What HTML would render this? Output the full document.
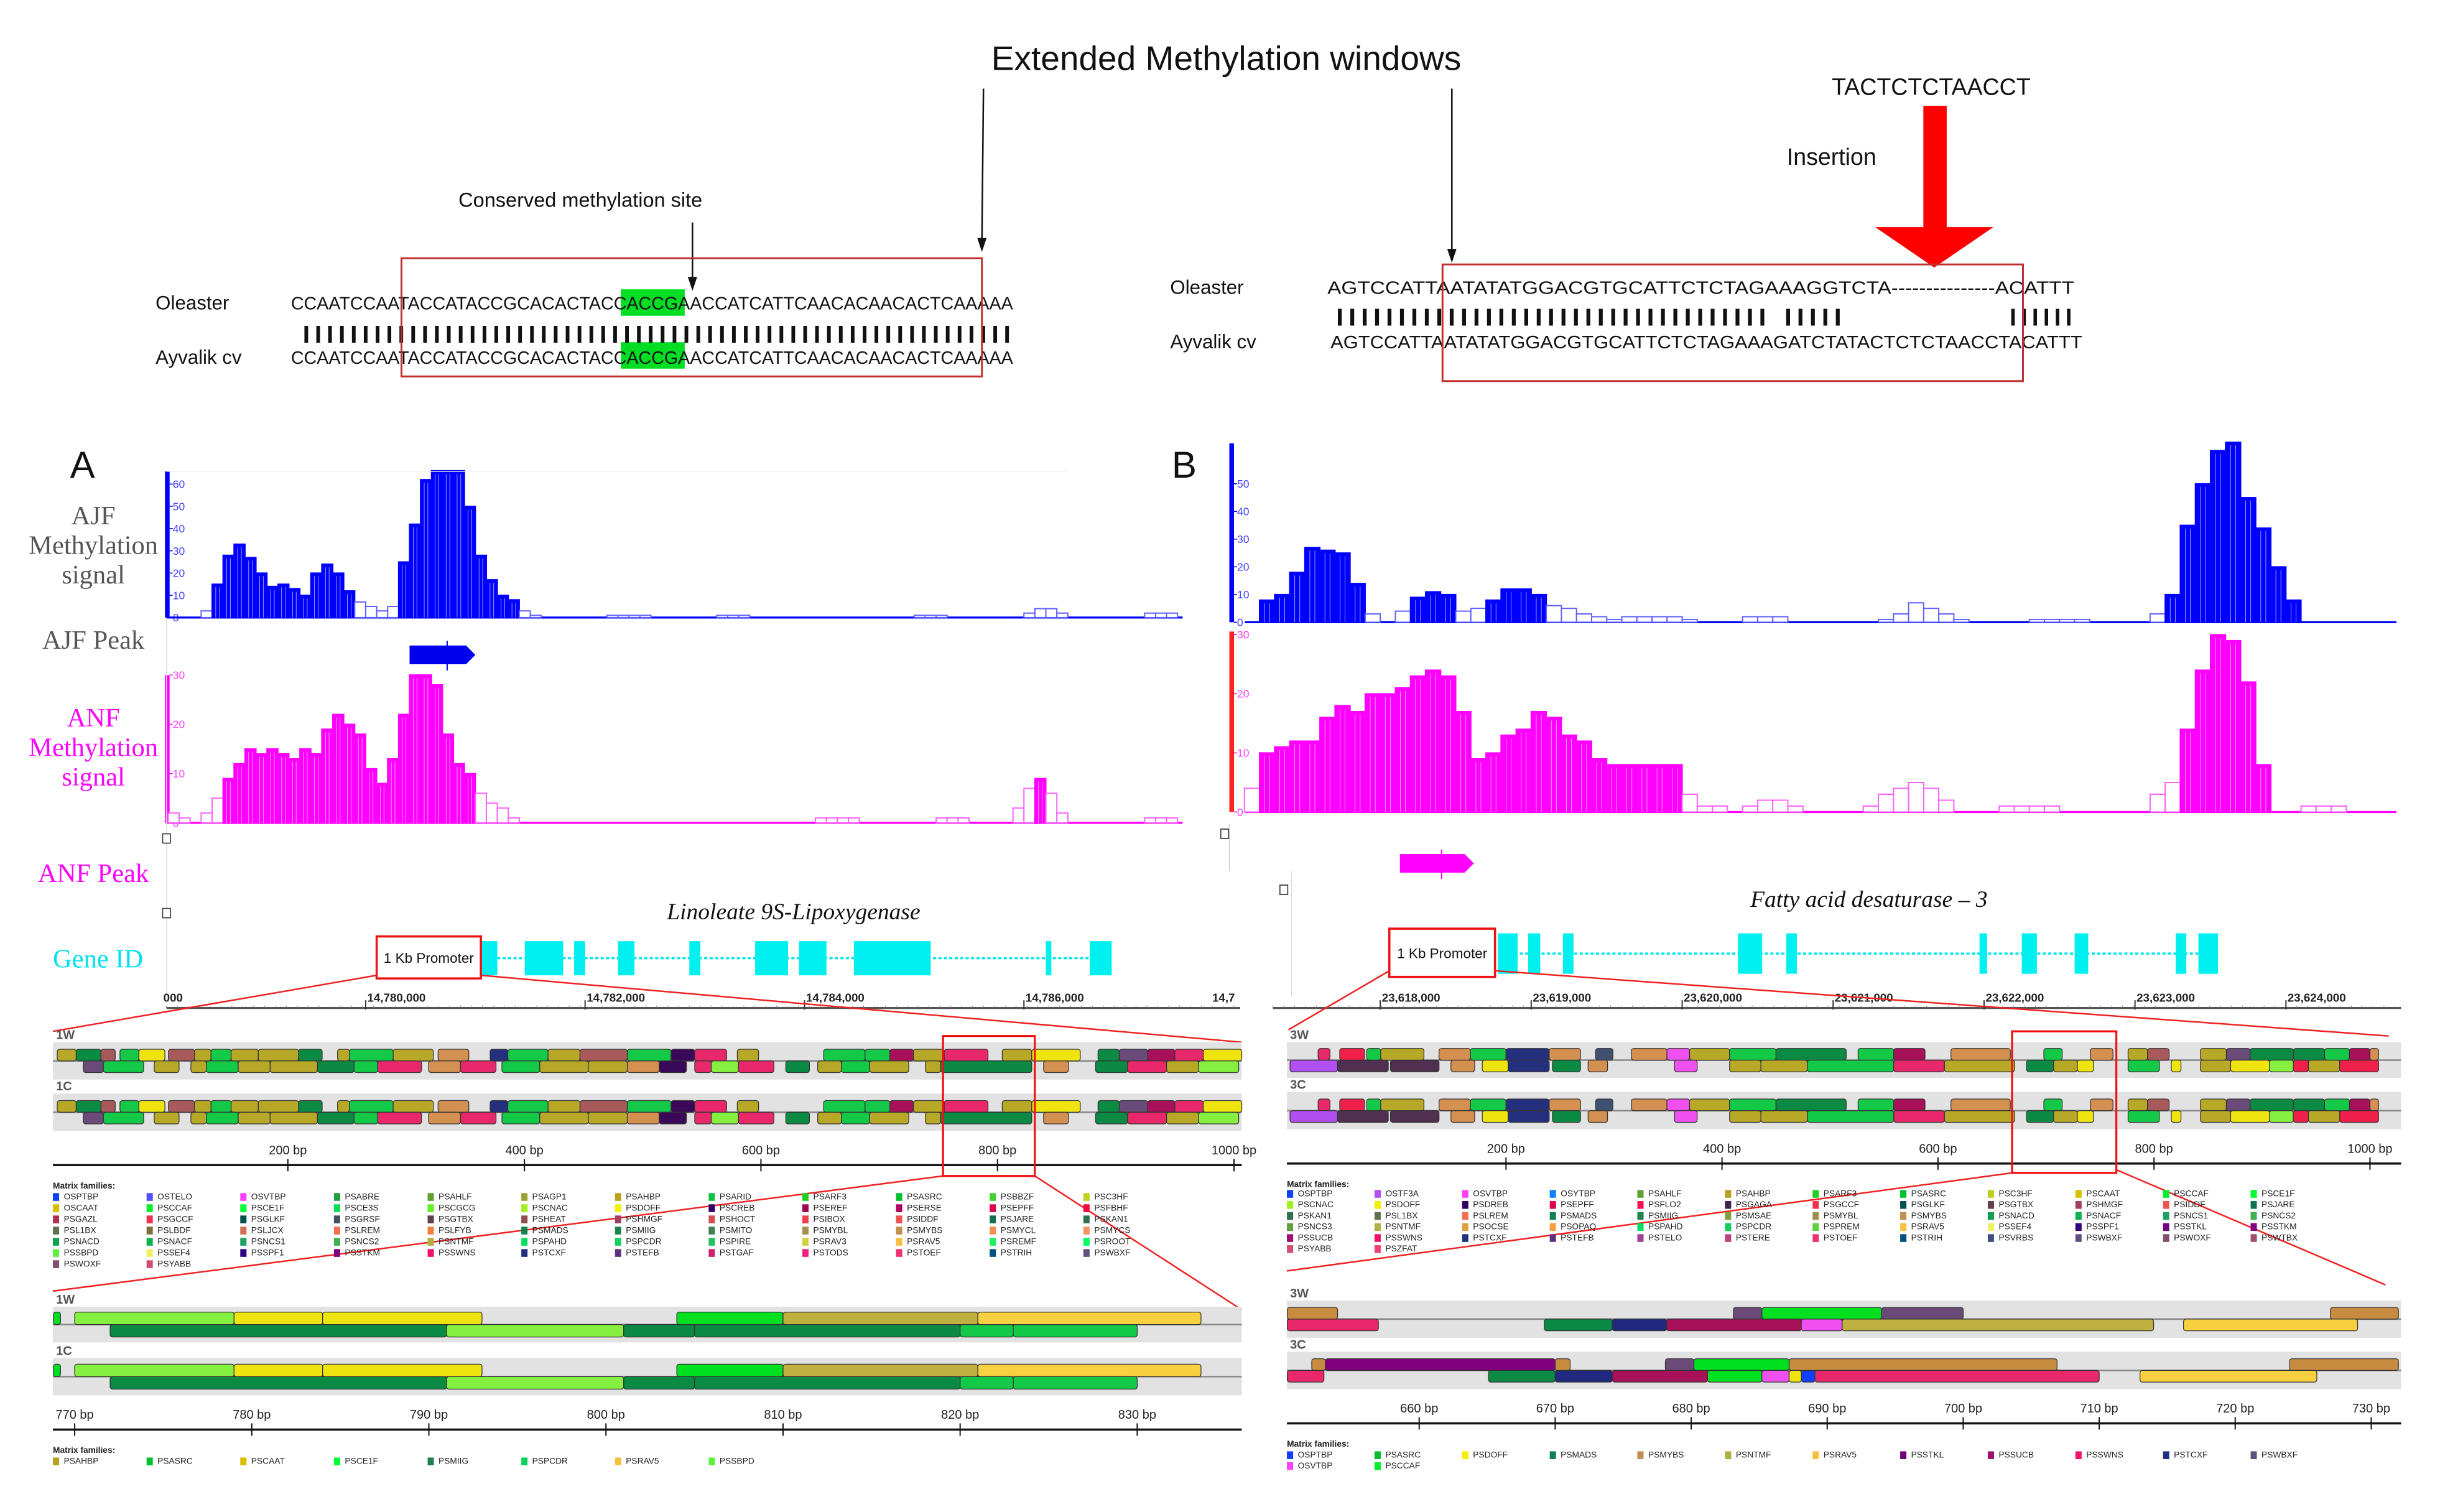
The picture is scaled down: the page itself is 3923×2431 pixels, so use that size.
<!DOCTYPE html>
<html><head><meta charset="utf-8"><style>
html,body{margin:0;padding:0;background:#fff;}
svg{display:block;}
text{font-family:"Liberation Sans",sans-serif;}
.serif{font-family:"Liberation Serif",serif;}
</style></head><body>
<svg id="fig" width="3923" height="2431" viewBox="0 0 1568 972" preserveAspectRatio="none" xmlns="http://www.w3.org/2000/svg">
<rect x="0" y="0" width="1568" height="972" fill="#fff"/>
<text x="788" y="45" font-size="22" text-anchor="middle" fill="#111">Extended Methylation windows</text>
<text x="1241" y="61" font-size="15" text-anchor="middle" fill="#111">TACTCTCTAACCT</text>
<text x="1177" y="106" font-size="15" text-anchor="middle" fill="#111">Insertion</text>
<g>
<rect x="1236" y="68" width="15" height="80" fill="#ff0000"/>
<polygon points="1205,146 1281,146 1243,172" fill="#ff0000"/>
</g>
<text x="373" y="133" font-size="13" text-anchor="middle" fill="#111">Conserved methylation site</text>
<g stroke="#111" stroke-width="1" fill="#111">
<line x1="445" y1="143" x2="445" y2="180"/><polygon points="442,178 448,178 445,187" stroke="none"/>
<line x1="632" y1="57" x2="631" y2="155"/><polygon points="628,153 634,153 631,162" stroke="none"/>
<line x1="933" y1="57" x2="933" y2="162"/><polygon points="930,160 936,160 933,169" stroke="none"/>
</g>
<g font-size="11.5" fill="#111">
<rect x="399" y="186" width="41" height="17" fill="#00dd22"/>
<rect x="399" y="220" width="41" height="17" fill="#00dd22"/>
<text x="100" y="199" font-size="12.5">Oleaster</text>
<text x="100" y="234" font-size="12.5">Ayvalik cv</text>
<text x="187" y="199" textLength="464" lengthAdjust="spacingAndGlyphs">CCAATCCAATACCATACCGCACACTACCACCGAACCATCATTCAACACAACACTCAAAAA</text>
<text x="193" y="218" textLength="458" lengthAdjust="spacingAndGlyphs">||||||||||||||||||||||||||||||||||||||||||||||||||||||||||||</text>
<text x="187" y="234" textLength="464" lengthAdjust="spacingAndGlyphs">CCAATCCAATACCATACCGCACACTACCACCGAACCATCATTCAACACAACACTCAAAAA</text>
<rect x="258" y="166" width="373" height="76" fill="none" stroke="#c03030" stroke-width="1.2"/>
</g>
<g font-size="11.5" fill="#111">
<text x="752" y="189" font-size="12.5">Oleaster</text>
<text x="752" y="224" font-size="12.5">Ayvalik cv</text>
<text x="853" y="189" textLength="480" lengthAdjust="spacingAndGlyphs">AGTCCATTAATATATGGACGTGCATTCTCTAGAAAGGTCTA---------------ACATTT</text>
<text x="857" y="207" textLength="328" lengthAdjust="spacingAndGlyphs">||||||||||||||||||||||||||||||||||| |||||</text>
<text x="1290" y="207" textLength="43" lengthAdjust="spacingAndGlyphs">||||||</text>
<text x="855" y="224" textLength="483" lengthAdjust="spacingAndGlyphs">AGTCCATTAATATATGGACGTGCATTCTCTAGAAAGATCTATACTCTCTAACCTACATTT</text>
<rect x="927" y="170" width="373" height="75" fill="none" stroke="#c03030" stroke-width="1.2"/>
</g>
<text x="45" y="307" font-size="24" fill="#111">A</text>
<text x="753" y="307" font-size="24" fill="#111">B</text>
<g class="serif" font-size="17" text-anchor="middle">
<text class="serif" x="60" y="337" fill="#555">AJF</text>
<text class="serif" x="60" y="356" fill="#555">Methylation</text>
<text class="serif" x="60" y="375" fill="#555">signal</text>
<text class="serif" x="60" y="417" fill="#555">AJF Peak</text>
<text class="serif" x="60" y="467" fill="#ff00ff">ANF</text>
<text class="serif" x="60" y="486" fill="#ff00ff">Methylation</text>
<text class="serif" x="60" y="505" fill="#ff00ff">signal</text>
<text class="serif" x="60" y="567" fill="#ff00ff">ANF Peak</text>
<text class="serif" x="63" y="622" fill="#00e0f0">Gene ID</text>
</g>
<text class="serif" x="510" y="591" font-size="15" font-style="italic" text-anchor="middle" fill="#111">Linoleate 9S-Lipoxygenase</text>
<text class="serif" x="1201" y="583" font-size="15" font-style="italic" text-anchor="middle" fill="#111">Fatty acid desaturase – 3</text>
<g id="marks"></g>
</svg>
<script>
const aStart = 14778200;
const ajfA = [0,0,0,3,15,28,33,27,20,14,15,13,10,20,24,20,12,7,5,3,5,25,42,62,70,70,66,50,28,17,10,8,3,1,0,0,0,0,0,0,1,1,1,1,0,0,0,0,0,0,1,1,1,0,0,0,0,0,0,0,0,0,0,0,0,0,0,0,1,1,1,0,0,0,0,0,0,0,2,4,4,2,0,0,0,0,0,0,0,2,2,2];
const anfA = [2,1,0,2,5,9,12,15,14,15,14,13,15,14,19,22,20,18,11,8,13,22,30,30,28,18,12,10,6,4,3,1,0,0,0,0,0,0,0,0,0,0,0,0,0,0,0,0,0,0,0,0,0,0,0,0,0,0,0,1,1,1,1,0,0,0,0,0,0,0,1,1,1,0,0,0,0,3,7,9,6,2,0,0,0,0,0,0,0,1,1,1];
const bStart = 23617100;
const ajfB = [0,8,10,18,27,26,25,14,3,0,4,9,11,10,4,5,8,12,12,10,6,5,3,2,1,2,2,2,2,1,0,0,0,2,2,2,0,0,0,0,0,0,1,3,7,5,3,1,0,0,0,0,1,1,1,1,0,0,0,0,3,10,35,50,62,65,45,34,20,8,0,0,0,0,0,0];
const anfB = [4,10,11,12,12,16,18,17,20,20,21,23,24,23,17,9,10,13,14,17,16,13,12,9,8,8,8,8,8,3,1,1,0,1,2,2,1,0,0,0,0,1,3,4,5,4,2,0,0,0,1,1,1,1,0,0,0,0,0,0,3,5,14,24,30,29,22,8,0,0,1,1,1,0,0,0];
const ajfTicks = [0,10,20,30,40,50,60];
const anfTicks = [0,10,20,30];
const genomeTicksA = [14780000,14782000,14784000,14786000];
const genomeTicksB = [23618000,23619000,23620000,23621000,23622000,23623000,23624000];
const promoterA = [14780100,14781050];
const exonsA = [[14781050,14781200],[14781450,14781800],[14781900,14782000],[14782300,14782450],[14782950,14783050],[14783550,14783850],[14783950,14784200],[14784450,14785150],[14786200,14786250],[14786600,14786800]];
const promoterB = [23618060,23618760];
const exonsB = [[23618780,23618910],[23618980,23619060],[23619210,23619280],[23620370,23620530],[23620690,23620760],[23621970,23622020],[23622250,23622350],[23622600,23622690],[23623270,23623340],[23623420,23623550]];
const peakA = [14780400,14781000];
const peakB = [23618130,23618620];
const palette = {ol:"#b8a828",dg:"#0b8a44",g:"#14c848",br:"#a85a5a",y:"#f0e410",nv:"#24307e",pk:"#e8286a",dp:"#3a0858",or:"#d49050",lg:"#86f040",mg:"#a8105a",gp:"#6a4a78",rd:"#f0204a",sl:"#405070",vi:"#f050f0",vi2:"#b050f0",dp2:"#503050",gr:"#00e020",pu:"#800080",bl:"#1040ff",yo:"#f8d040",ob:"#c0b040",brn:"#c88c40",nvy:"#202880"};
const stripATop = [[5,21,"ol"],[21,42,"dg"],[42,54,"br"],[58,74,"g"],[74,96,"y"],[99,121,"br"],[121,135,"ol"],[135,152,"g"],[152,175,"ol"],[175,209,"ol"],[209,229,"dg"],[242,252,"ol"],[252,289,"g"],[289,323,"ol"],[327,353,"or"],[371,386,"nv"],[386,420,"g"],[420,447,"ol"],[447,487,"br"],[487,524,"g"],[524,544,"dp"],[544,571,"pk"],[580,598,"ol"],[653,688,"g"],[688,709,"g"],[709,729,"mg"],[729,755,"ol"],[755,792,"pk"],[804,829,"ol"],[829,870,"y"],[885,903,"dg"],[903,927,"gp"],[927,950,"mg"],[950,974,"pk"],[974,1007,"y"]];
const stripABot = [[27,44,"gp"],[44,78,"g"],[87,108,"ol"],[118,131,"ol"],[131,158,"g"],[158,185,"ol"],[185,225,"ol"],[225,256,"dg"],[256,276,"g"],[276,313,"pk"],[319,346,"or"],[346,376,"pk"],[381,413,"g"],[413,454,"ol"],[454,487,"ol"],[487,514,"or"],[514,537,"dp"],[544,558,"pk"],[558,581,"lg"],[581,611,"pk"],[621,641,"dg"],[648,668,"ol"],[668,692,"g"],[692,725,"ol"],[739,752,"ol"],[752,829,"dg"],[839,860,"or"],[883,910,"dg"],[910,943,"pk"],[943,970,"ol"],[970,1004,"lg"]];
const stripBTop = [[26,37,"pk"],[46,69,"rd"],[71,84,"g"],[84,124,"ol"],[138,167,"or"],[167,200,"g"],[200,240,"nv"],[240,269,"or"],[283,299,"sl"],[316,349,"or"],[349,370,"vi"],[370,407,"ol"],[407,450,"g"],[450,515,"dg"],[526,559,"g"],[559,588,"mg"],[612,667,"or"],[698,715,"g"],[741,762,"or"],[776,794,"ol"],[794,814,"br"],[843,867,"ol"],[867,889,"gp"],[889,929,"dg"],[929,958,"dg"],[958,981,"g"],[981,1000,"mg"],[1000,1008,"or"]];
const stripBBot = [[0,44,"vi2"],[44,91,"dp2"],[93,138,"dp2"],[149,171,"or"],[178,202,"y"],[202,240,"nv"],[243,269,"dg"],[276,294,"or"],[356,377,"vi"],[407,436,"ol"],[436,479,"ol"],[479,559,"g"],[559,606,"pk"],[606,671,"ol"],[682,707,"dg"],[707,729,"ol"],[729,744,"y"],[776,805,"g"],[816,825,"y"],[843,871,"ol"],[871,907,"y"],[907,929,"lg"],[929,943,"rd"],[943,972,"ol"],[972,1008,"rd"]];
const stripTicks = [200,400,600,800,1000];
const zoomATicks = [770,780,790,800,810,820,830];
const zoomATop = [[768.8,769.2,"gr"],[770,779,"lg"],[779,784,"y"],[784,793,"y"],[804,810,"gr"],[810,821,"ob"],[821,833.6,"yo"]];
const zoomABot = [[772,791,"dg"],[791,801,"lg"],[801,805,"dg"],[805,820,"dg"],[820,823,"g"],[823,830,"g"]];
const zoomBTicks = [660,670,680,690,700,710,720,730];
const zoomBTopW = [[650.3,654,"brn"],[683.1,685.2,"gp"],[685.2,694,"gr"],[694,700,"gp"],[727,732,"brn"]];
const zoomBBotW = [[650.3,657,"pk"],[669.2,674.2,"dg"],[674.2,678.2,"nvy"],[678.2,688.1,"mg"],[688.1,691.1,"vi"],[691.1,714,"ob"],[716.2,729,"yo"]];
const zoomBTopC = [[652.1,653.1,"brn"],[653.1,670,"pu"],[670,671.1,"brn"],[678.1,680.2,"gp"],[680.2,687.2,"gr"],[687.2,706.9,"brn"],[724,732,"brn"]];
const zoomBBotC = [[650.3,653,"pk"],[665.1,670,"dg"],[670,674.2,"nvy"],[674.2,681.2,"mg"],[681.2,685.2,"gr"],[685.2,687.2,"vi"],[687.2,688.1,"y"],[688.1,689.1,"bl"],[689.1,710,"pk"],[713,726,"yo"]];
const legendA = [["OSPTBP","#1040ff"],["OSCAAT","#d8c000"],["PSGAZL","#b03050"],["PSL1BX","#607050"],["PSNACD","#10a050"],["PSSBPD","#60f040"],["PSWOXF","#805070"],
["OSTELO","#5050ff"],["PSCCAF","#00ee30"],["PSGCCF","#f03050"],["PSLBDF","#807040"],["PSNACF","#10b050"],["PSSEF4","#f0f060"],["PSYABB","#d05070"],
["OSVTBP","#ff40ff"],["PSCE1F","#00ff30"],["PSGLKF","#005050"],["PSLJCX","#d07050"],["PSNCS1","#20a060"],["PSSPF1","#300080"],
["PSABRE","#20a040"],["PSCE3S","#00e050"],["PSGRSF","#405060"],["PSLREM","#f07050"],["PSNCS2","#40b050"],["PSSTKM","#800080"],
["PSAHLF","#60a030"],["PSCGCG","#60f020"],["PSGTBX","#604050"],["PSLFYB","#f08040"],["PSNTMF","#b0b040"],["PSSWNS","#f01070"],
["PSAGP1","#a0a030"],["PSCNAC","#a0f020"],["PSHEAT","#905050"],["PSMADS","#108050"],["PSPAHD","#00e060"],["PSTCXF","#203080"],
["PSAHBP","#b8a020"],["PSDOFF","#f0f000"],["PSHMGF","#a04060"],["PSMIIG","#208050"],["PSPCDR","#10d060"],["PSTEFB","#603080"],
["PSARID","#10c040"],["PSCREB","#300060"],["PSHOCT","#d05050"],["PSMITO","#408050"],["PSPIRE","#20c060"],["PSTGAF","#d02070"],
["PSARF3","#20d020"],["PSEREF","#a00050"],["PSIBOX","#f04050"],["PSMYBL","#a09050"],["PSRAV3","#d0d040"],["PSTODS","#f02080"],
["PSASRC","#00c030"],["PSERSE","#b00060"],["PSIDDF","#f05050"],["PSMYBS","#c09050"],["PSRAV5","#f8c040"],["PSTOEF","#f03070"],
["PSBBZF","#40d030"],["PSEPFF","#e00050"],["PSJARE","#107050"],["PSMYCL","#f09050"],["PSREMF","#20f060"],["PSTRIH","#005080"],
["PSC3HF","#c0d020"],["PSFBHF","#ff0040"],["PSKAN1","#307050"],["PSMYCS","#f89060"],["PSROOT","#00ff60"],["PSWBXF","#605080"]];
const legendACounts = [7,7,6,6,6,6,6,6,6,6,6,6];
const legendB = [["OSPTBP","#1040ff"],["PSCNAC","#a0f020"],["PSKAN1","#307050"],["PSNCS3","#60a040"],["PSSUCB","#a01070"],["PSYABB","#d05070"],
["OSTF3A","#b050f0"],["PSDOFF","#f0f000"],["PSL1BX","#607050"],["PSNTMF","#b0b040"],["PSSWNS","#f01070"],["PSZFAT","#f04070"],
["OSVTBP","#ff40ff"],["PSDREB","#300060"],["PSLREM","#f07050"],["PSOCSE","#e0a040"],["PSTCXF","#203080"],
["OSYTBP","#1080ff"],["PSEPFF","#e00050"],["PSMADS","#108050"],["PSOPAQ","#f8a040"],["PSTEFB","#603080"],
["PSAHLF","#60a030"],["PSFLO2","#ff1050"],["PSMIIG","#208050"],["PSPAHD","#00e060"],["PSTELO","#a04090"],
["PSAHBP","#b8a020"],["PSGAGA","#402050"],["PSMSAE","#80a040"],["PSPCDR","#10d060"],["PSTERE","#c04080"],
["PSARF3","#20d020"],["PSGCCF","#f03050"],["PSMYBL","#a09050"],["PSPREM","#60d040"],["PSTOEF","#f03070"],
["PSASRC","#00c030"],["PSGLKF","#005050"],["PSMYBS","#c09050"],["PSRAV5","#f8c040"],["PSTRIH","#005080"],
["PSC3HF","#c0d020"],["PSGTBX","#604050"],["PSNACD","#10a050"],["PSSEF4","#f0f060"],["PSVRBS","#405080"],
["PSCAAT","#d8c000"],["PSHMGF","#a04060"],["PSNACF","#10b050"],["PSSPF1","#300080"],["PSWBXF","#605080"],
["PSCCAF","#00ee30"],["PSIDDF","#f05050"],["PSNCS1","#20a060"],["PSSTKL","#700080"],["PSWOXF","#805070"],
["PSCE1F","#00ff30"],["PSJARE","#107050"],["PSNCS2","#40b050"],["PSSTKM","#800080"],["PSWTBX","#a05070"]];
const legendBCounts = [6,6,5,5,5,5,5,5,5,5,5,5];
const zoomLegendA = [["PSAHBP","#b8a020"],["PSASRC","#00c030"],["PSCAAT","#d8c000"],["PSCE1F","#00ff30"],["PSMIIG","#208050"],["PSPCDR","#10d060"],["PSRAV5","#f8c040"],["PSSBPD","#60f040"]];
const zoomLegendB = [["OSPTBP","#1040ff"],["OSVTBP","#ff40ff"],["PSASRC","#00c030"],["PSCCAF","#00ee30"],["PSDOFF","#f0f000"],["PSMADS","#108050"],["PSMYBS","#c09050"],["PSNTMF","#b0b040"],["PSRAV5","#f8c040"],["PSSTKL","#700080"],["PSSUCB","#a01070"],["PSSWNS","#f01070"],["PSTCXF","#203080"],["PSWBXF","#605080"]];

const NS = "http://www.w3.org/2000/svg";
const root = document.getElementById('marks');
function el(tag, parent){ const e=document.createElementNS(NS,tag); (parent||root).appendChild(e); return e; }
function set(e, o){ for(const k in o) e.setAttribute(k,o[k]); return e; }
function grp(name, parent){ const g=el('g',parent);   return g; }

const xA = bp => 235 + (bp-14780000)*0.0705;
const xB = bp => 887 + (bp-23618000)*0.097;
const yAjfA = v => 397 - Math.min(v,66)*1.43;
const yAnfA = v => 529 - Math.min(v,31)*3.17;
const yAjfB = v => 400 - Math.min(v,66)*1.78;
const yAnfB = v => 522 - Math.min(v,31)*3.8;

function signal(name, vals, start, xf, yf, col, lite, x0, x1, ticks, axisX, axisTop, tickCol){
  const g = grp(name);
  const ax = el('rect', g); set(ax,{x:axisX-3,y:axisTop,width:3,height:yf(0)-axisTop,fill:tickCol});
  ticks.forEach(t=>{
    const tl = el('text', g);  
    set(tl,{x:axisX+2,y:yf(t)+2.5,'font-size':7,fill:col==='#0000ff'?'#4040ff':'#ff40ff'}); tl.textContent=t;
    const tk = el('line', g); set(tk,{x1:axisX,x2:axisX+2,y1:yf(t),y2:yf(t),stroke:col,'stroke-width':0.6});
  });
  const base = el('line', g); set(base,{x1:x0,x2:x1,y1:yf(0),y2:yf(0),stroke:col,'stroke-width':1.3});
  vals.forEach((v,i)=>{
    if(v<=0) return;
    const xa = xf(start+i*100), xb = xf(start+(i+1)*100);
    const r = el('rect', g);
    
    
    const filled = v>=8;
    set(r,{x:xa,y:yf(v),width:xb-xa,height:yf(0)-yf(v),fill:filled?col:'#fff',stroke:filled?col:lite,'stroke-width':0.8});
    if(filled){ for(let k=1;k<3;k++){ const s=el('line',g); set(s,{x1:xa+(xb-xa)*k/3,x2:xa+(xb-xa)*k/3,y1:yf(v)+2,y2:yf(0),stroke:'#fff','stroke-width':0.35,'stroke-opacity':0.7}); } }
  });
}
signal('ajf-signal-a', ajfA, aStart, xA, yAjfA, '#0000ff', '#6060ff', 107, 760, ajfTicks, 109, 303, '#0000ff');
signal('anf-signal-a', anfA, aStart, xA, yAnfA, '#ff00ff', '#ff60ff', 107, 760, anfTicks, 109, 434, '#ff00ff');
signal('ajf-signal-b', ajfB, bStart, xB, yAjfB, '#0000ff', '#6060ff', 800, 1540, ajfTicks.slice(0,6), 793, 285, '#0000ff');
signal('anf-signal-b', anfB, bStart, xB, yAnfB, '#ff00ff', '#ff60ff', 800, 1540, anfTicks, 793, 406, '#ff2020');

const fr = grp('track-frames');
set(el('line',fr),{x1:107,x2:685,y1:303,y2:303,stroke:'#eee','stroke-width':0.6});
set(el('line',fr),{x1:107,x2:107,y1:398,y2:640,stroke:'#ddd','stroke-width':0.6});
set(el('line',fr),{x1:790,x2:790,y1:530,y2:560,stroke:'#ccc','stroke-width':0.6});
set(el('line',fr),{x1:830,x2:830,y1:560,y2:640,stroke:'#ddd','stroke-width':0.6});
[[107,539],[107,587],[787,536],[825,572]].forEach(p=>{ const b=el('rect',fr);   set(b,{x:p[0]-2.5,y:p[1]-3,width:5,height:6,fill:'#fff',stroke:'#444','stroke-width':0.7}); });

function peak(name, rng, xf, y, col){
  const g=grp(name);
  const a=xf(rng[0]), b=xf(rng[1]);
  set(el('polygon',g),{points:`${a},${y-6} ${b-6},${y-6} ${b},${y} ${b-6},${y+6} ${a},${y+6}`,fill:col});
  set(el('line',g),{x1:(a+b)/2+3,x2:(a+b)/2+3,y1:y-9,y2:y+10,stroke:col,'stroke-width':0.8});
}
peak('ajf-peak-a', peakA, xA, 421, '#0000ee');
peak('anf-peak-b', peakB, xB, 555, '#ff00ff');

function gene(name, prom, exons, xf, yc, h){
  const g=grp(name);
  const last = exons[exons.length-1];
  set(el('line',g),{x1:xf(exons[0][0]),x2:xf(last[1]),y1:yc,y2:yc,stroke:'#00e8f0','stroke-width':1.4,'stroke-dasharray':'2,1.5'});
  exons.forEach(e=>{ const r=el('rect',g);   set(r,{x:xf(e[0]),y:yc-h/2,width:xf(e[1])-xf(e[0]),height:h,fill:'#00f0f0'}); });
  const pr=el('rect',g);  
  set(pr,{x:xf(prom[0]),y:yc-h/2-3,width:xf(prom[1])-xf(prom[0]),height:h+5,fill:'#fff',stroke:'#ee1111','stroke-width':1.4});
  const t=el('text',g); set(t,{x:(xf(prom[0])+xf(prom[1]))/2,y:yc+3,'font-size':9,'text-anchor':'middle',fill:'#111'}); t.textContent='1 Kb Promoter';
}
gene('gene-model-a', promoterA, exonsA, xA, 616, 22);
gene('gene-model-b', promoterB, exonsB, xB, 613, 26);

function gaxis(name, ticks, xf, x0, x1, y, extra){
  const g=grp(name);
  set(el('line',g),{x1:x0,x2:x1,y1:y,y2:y,stroke:'#555','stroke-width':1.3});
  for(let x=x0;x<=x1;x+=7){ set(el('line',g),{x1:x,x2:x,y1:y-1.5,y2:y,stroke:'#777','stroke-width':0.4}); }
  ticks.forEach(t=>{
    set(el('line',g),{x1:xf(t),x2:xf(t),y1:y-5,y2:y+1,stroke:'#333','stroke-width':0.8});
    const l=el('text',g);  
    set(l,{x:xf(t)+1,y:y-4,'font-size':7.5,fill:'#222','font-weight':'bold'}); l.textContent=t.toLocaleString('en-US');
  });
  (extra||[]).forEach(e=>{ const l=el('text',g); set(l,{x:e[0],y:y-4,'font-size':7.5,fill:'#222','font-weight':'bold'}); l.textContent=e[1]; });
}
gaxis('genome-axis-a', genomeTicksA, xA, 107, 797, 648, [[105,'000'],[779,'14,7']]);
gaxis('genome-axis-b', genomeTicksB, xB, 818, 1543, 648);

const zl = grp('zoom-connectors');
[[242,627,34,663],[309,627,798,670],[606,756,34,830],[665,756,798,842],[893,624,828,662],[960,624,1535,666],[1293,754,827,817],[1360,752,1533,826]].forEach(l=>set(el('line',zl),{x1:l[0],y1:l[1],x2:l[2],y2:l[3],stroke:'#ee2222','stroke-width':1}));

function strip(name, label, segsTop, segsBot, bx, x0, x1, bandTop, bandH, rowH){
  const g=grp(name);
  const mid = bandTop+bandH/2;
  const lb=el('text',g); set(lb,{x:x0+2,y:bandTop-2,'font-size':8,fill:'#555','font-weight':'bold'}); lb.textContent=label;
  set(el('rect',g),{x:x0,y:bandTop,width:x1-x0,height:bandH,fill:'#e2e2e2'});
  set(el('line',g),{x1:x0,x2:x1,y1:mid,y2:mid,stroke:'#888','stroke-width':1});
  [[segsTop,mid-rowH],[segsBot,mid]].forEach(([segs,y])=>{
    segs.forEach(s=>{
      const r=el('rect',g);
      
      
      const xa=Math.max(x0,bx(s[0])), xb=Math.min(x1,bx(s[1]));
      set(r,{x:xa,y:y,width:Math.max(0.8,xb-xa),height:rowH,rx:1.5,fill:palette[s[2]],stroke:'#333','stroke-width':0.5});
    });
  });
}
function sAxis(name, ticks, bx, x0, x1, y, fs){
  const g=grp(name);
  set(el('line',g),{x1:x0,x2:x1,y1:y,y2:y,stroke:'#111','stroke-width':1.4});
  ticks.forEach(t=>{
    set(el('line',g),{x1:bx(t),x2:bx(t),y1:y-4,y2:y+4,stroke:'#111','stroke-width':0.8});
    const l=el('text',g);  
    set(l,{x:bx(t),y:y-7,'font-size':fs,'text-anchor':'middle',fill:'#222'}); l.textContent=t+' bp';
  });
}
const sxA = bp => 33 + bp*0.76;
const sxB = bp => 829 + bp*0.694;
strip('tf-strip-a-1w','1W',stripATop,stripABot,sxA,34,798,670,24,7.5);
strip('tf-strip-a-1c','1C',stripATop,stripABot,sxA,34,798,703,24,7.5);
sAxis('bp-axis-a', stripTicks, sxA, 34, 798, 749, 8);
strip('tf-strip-b-3w','3W',stripBTop,stripBBot,sxB,827,1543,670,23,7.5);
strip('tf-strip-b-3c','3C',stripBTop,stripBBot,sxB,827,1543,702,24,7.5);
sAxis('bp-axis-b', stripTicks, sxB, 827, 1543, 748, 8);
const zxA = bp => 48 + (bp-770)*11.38;
const zxB = bp => 912 + (bp-660)*8.74;
strip('zoom-strip-a-1w','1W',zoomATop,zoomABot,zxA,34,798,840,23,8);
strip('zoom-strip-a-1c','1C',zoomATop,zoomABot,zxA,34,798,873,24,8);
sAxis('zoom-axis-a', zoomATicks, zxA, 34, 798, 919, 8);
strip('zoom-strip-b-3w','3W',zoomBTopW,zoomBBotW,zxB,827,1543,836,24,7.5);
strip('zoom-strip-b-3c','3C',zoomBTopC,zoomBBotC,zxB,827,1543,869,24,7.5);
sAxis('zoom-axis-b', zoomBTicks, zxB, 827, 1543, 915, 8);

const hb=grp('highlight-boxes');
set(el('rect',hb),{x:606,y:666,width:59,height:90,fill:'none',stroke:'#ee1111','stroke-width':1.3});
set(el('rect',hb),{x:1293,y:663,width:67,height:91,fill:'none',stroke:'#ee1111','stroke-width':1.3});

function legend(name, items, counts, x0, dx, y0, dy, title, ty){
  const g=grp(name);
  const t=el('text',g); set(t,{x:x0,y:ty,'font-size':5.5,fill:'#222','font-weight':'bold'}); t.textContent=title;
  let k=0;
  counts.forEach((c,col)=>{
    for(let r=0;r<c;r++){
      const it=items[k++]; if(!it) return;
      const e=grp('legend-entry', g);
      set(el('rect',e),{x:x0+col*dx,y:y0+r*dy-4,width:4,height:5,fill:it[1]});
      const l=el('text',e); set(l,{x:x0+col*dx+7,y:y0+r*dy,'font-size':5.5,fill:'#222'}); l.textContent=it[0];
    }
  });
}
legend('legend-a', legendA, legendACounts, 34, 60.2, 771, 7.2, 'Matrix families:', 764);
legend('legend-b', legendB, legendBCounts, 827, 56.3, 769, 7.1, 'Matrix families:', 763);
legend('zoom-legend-a', zoomLegendA, [1,1,1,1,1,1,1,1], 34, 60.2, 941, 7, 'Matrix families:', 934);
legend('zoom-legend-b', zoomLegendB, [2,2,1,1,1,1,1,1,1,1,1,1], 827, 56.3, 937, 7, 'Matrix families:', 930);
</script>
</body></html>
